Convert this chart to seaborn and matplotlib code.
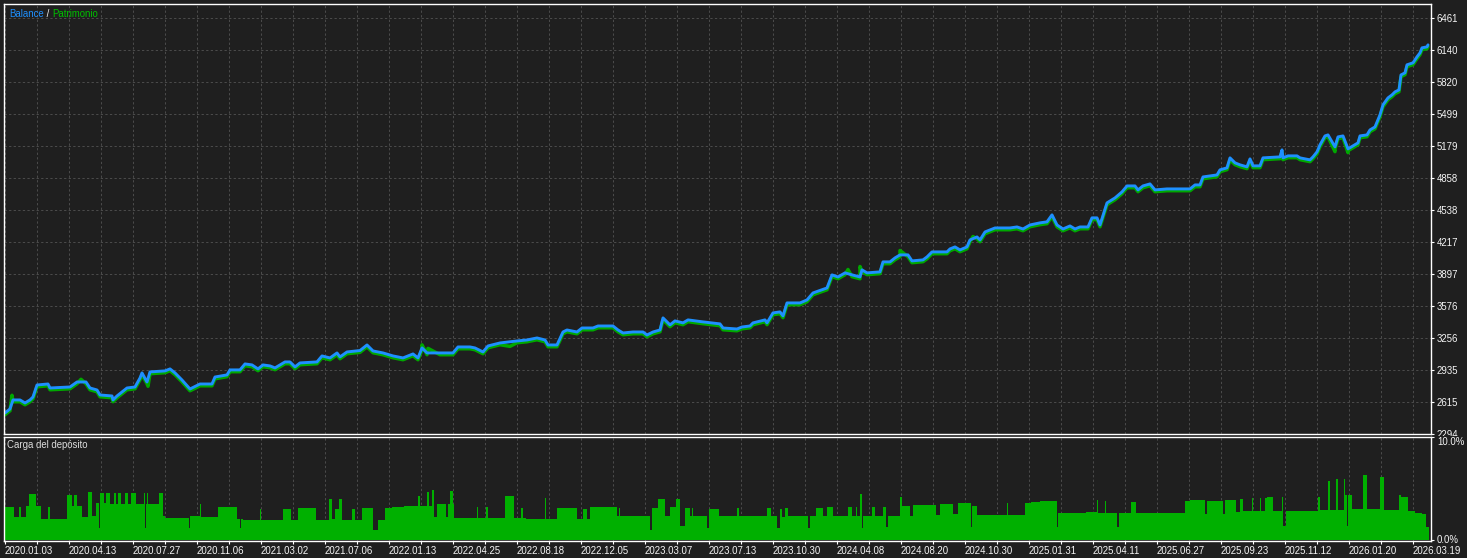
import numpy as np
import pandas as pd
import matplotlib
matplotlib.use("Agg")
import matplotlib.pyplot as plt
import seaborn as sns
from matplotlib import transforms
from matplotlib.transforms import Bbox
from matplotlib.offsetbox import TextArea, HPacker, AnchoredOffsetbox

# ---------------- data ----------------
# deal position (horizontal index) and balance value
deal_x = [5, 10, 13, 20, 25, 30, 33, 37, 48, 50, 70, 77, 86, 90, 97, 100, 112, 113, 117, 127,
          135, 140, 142, 147, 150, 165, 170, 175, 182, 190, 200, 212, 215, 227, 230, 240, 245, 252, 258, 263,
          270, 275, 285, 290, 295, 300, 317, 322, 330, 337, 340, 347, 360, 367, 373, 383, 393, 403, 413, 418,
          422, 427, 440, 453, 458, 470, 475, 483, 488, 500, 517, 527, 537, 545, 548, 557, 563, 567, 577, 582,
          593, 598, 613, 618, 623, 633, 643, 647, 653, 660, 663, 670, 675, 683, 688, 703, 720, 723, 737, 742,
          750, 753, 765, 767, 773, 780, 783, 787, 800, 807, 813, 827, 832, 838, 845, 852, 860, 862, 867, 880,
          883, 890, 895, 900, 908, 912, 923, 927, 932, 940, 947, 950, 955, 960, 967, 970, 977, 980, 985, 995,
          1010, 1017, 1023, 1030, 1040, 1047, 1052, 1057, 1063, 1070, 1075, 1080, 1088, 1092, 1097, 1100, 1107, 1115, 1122, 1127,
          1135, 1138, 1143, 1150, 1155, 1167, 1177, 1190, 1195, 1200, 1203, 1217, 1220, 1227, 1230, 1235, 1240, 1247, 1250, 1253,
          1260, 1263, 1280, 1282, 1283, 1288, 1297, 1300, 1310, 1313, 1317, 1320, 1325, 1328, 1335, 1338, 1343, 1348, 1353, 1358,
          1360, 1367, 1370, 1375, 1380, 1383, 1388, 1392, 1395, 1399, 1401, 1405, 1407, 1413, 1417, 1420, 1422, 1427, 1428]
balance = [2505, 2545, 2635, 2635, 2605, 2635, 2665, 2785, 2795, 2755, 2765, 2815, 2815, 2755, 2735, 2685, 2675, 2635, 2675, 2755,
           2765, 2855, 2906, 2815, 2916, 2926, 2946, 2906, 2835, 2745, 2795, 2795, 2865, 2886, 2936, 2936, 2996, 2986, 2946, 2986,
           2976, 2956, 3016, 3016, 2966, 3006, 3016, 3076, 3056, 3106, 3066, 3116, 3130, 3186, 3126, 3106, 3076, 3056, 3096, 3056,
           3156, 3106, 3106, 3106, 3166, 3166, 3156, 3116, 3176, 3206, 3226, 3236, 3256, 3236, 3186, 3186, 3316, 3336, 3316, 3356,
           3356, 3376, 3376, 3336, 3306, 3316, 3316, 3286, 3316, 3336, 3457, 3387, 3427, 3407, 3437, 3417, 3397, 3356, 3346, 3366,
           3376, 3407, 3437, 3407, 3507, 3517, 3477, 3607, 3607, 3637, 3707, 3757, 3888, 3867, 3908, 3888, 3867, 3938, 3908, 3918,
           4018, 4018, 4058, 4088, 4088, 4028, 4038, 4068, 4118, 4118, 4118, 4148, 4168, 4138, 4168, 4238, 4268, 4238, 4318, 4358,
           4358, 4368, 4348, 4388, 4409, 4419, 4489, 4388, 4348, 4378, 4348, 4368, 4368, 4459, 4459, 4388, 4609, 4659, 4719, 4779,
           4779, 4739, 4779, 4799, 4739, 4749, 4749, 4749, 4789, 4789, 4869, 4889, 4940, 4960, 5060, 5010, 4990, 4970, 5050, 4980,
           4980, 5060, 5070, 5140, 5060, 5080, 5080, 5060, 5040, 5070, 5120, 5190, 5280, 5290, 5170, 5270, 5280, 5150, 5180, 5210,
           5280, 5290, 5340, 5370, 5491, 5591, 5661, 5691, 5721, 5741, 5891, 5912, 5992, 6012, 6072, 6112, 6162, 6172, 6192]

# equity excursions away from balance (deal position, equity value)
equity_spike_x = [12, 81, 148, 422, 428, 510, 848, 860, 900, 973, 1335, 1348]
equity_spike_v = [2700, 2860, 2790, 3205, 3170, 3190, 3960, 3990, 4150, 4290, 5140, 5130]

# deposit load (segment start position, load %), last start is the end of the series
load_x = [4, 14, 19, 21, 26, 29, 36, 41, 48, 50, 67, 72, 74, 77, 82, 88, 92, 96, 99, 100,
          104, 106, 110, 114, 116, 118, 121, 125, 128, 131, 136, 144, 145, 146, 147, 148, 159, 163, 165, 189,
          190, 200, 201, 218, 237, 240, 241, 243, 260, 261, 283, 291, 298, 316, 329, 332, 335, 339, 342, 352,
          355, 362, 373, 378, 385, 392, 404, 418, 420, 427, 429, 432, 434, 437, 446, 448, 450, 453, 454, 477,
          478, 486, 488, 505, 514, 521, 523, 526, 545, 546, 557, 577, 583, 587, 590, 617, 619, 620, 650, 652,
          658, 665, 670, 676, 680, 685, 690, 692, 693, 707, 709, 719, 737, 739, 767, 771, 777, 780, 782, 785,
          788, 808, 810, 816, 823, 827, 833, 848, 852, 856, 857, 860, 862, 863, 872, 875, 883, 886, 888, 900,
          902, 910, 913, 936, 940, 953, 958, 971, 972, 977, 1007, 1008, 1025, 1031, 1040, 1057, 1058, 1086, 1097, 1098,
          1105, 1106, 1117, 1119, 1131, 1136, 1185, 1190, 1205, 1207, 1223, 1225, 1236, 1240, 1243, 1252, 1253, 1260, 1261, 1265,
          1267, 1273, 1282, 1283, 1286, 1318, 1320, 1328, 1330, 1336, 1338, 1344, 1345, 1347, 1348, 1352, 1363, 1367, 1380, 1384,
          1399, 1401, 1408, 1415, 1422, 1426, 1429]
load_pct = [3.2, 2.2, 3.2, 2.2, 3.3, 4.5, 3.3, 2.0, 3.2, 2.0, 4.4, 3.3, 4.4, 3.3, 2.2, 4.7, 2.3, 3.6, 1.2, 4.6,
            3.6, 4.6, 3.5, 4.6, 3.5, 4.6, 3.5, 4.6, 3.5, 4.6, 3.5, 4.6, 1.2, 3.5, 4.6, 3.5, 4.6, 2.3, 2.1, 1.2,
            2.3, 3.5, 2.2, 3.2, 2.0, 1.2, 2.0, 1.9, 3.0, 1.9, 3.0, 1.9, 3.1, 1.9, 4.0, 2.0, 3.0, 4.0, 1.9, 3.0,
            1.9, 3.1, 1.0, 1.9, 3.1, 3.2, 3.3, 4.3, 3.3, 4.7, 3.3, 4.9, 2.2, 3.5, 2.2, 3.5, 4.8, 3.5, 2.1, 3.2,
            2.1, 3.2, 2.1, 4.3, 2.1, 3.1, 2.1, 2.0, 4.1, 2.0, 3.1, 2.0, 3.0, 2.0, 3.2, 2.3, 3.1, 2.3, 1.0, 3.1,
            4.0, 2.3, 3.2, 4.0, 1.4, 3.1, 2.3, 3.1, 2.3, 1.2, 3.0, 2.3, 3.1, 2.3, 3.1, 2.3, 1.2, 3.0, 2.2, 3.1,
            2.3, 1.2, 2.3, 3.1, 2.3, 3.2, 2.3, 3.2, 2.3, 3.2, 2.3, 4.5, 1.2, 2.3, 3.2, 2.3, 3.2, 1.3, 2.3, 4.2,
            3.3, 2.3, 3.4, 2.4, 3.5, 2.5, 3.6, 1.3, 3.3, 2.4, 3.6, 2.4, 3.6, 3.7, 3.8, 1.3, 2.6, 2.7, 3.9, 2.6,
            3.8, 2.6, 1.3, 2.6, 3.7, 2.6, 3.8, 3.9, 2.5, 3.8, 2.5, 3.9, 2.7, 4.0, 2.8, 4.1, 2.8, 4.1, 2.8, 4.1,
            4.2, 2.8, 4.2, 1.4, 2.8, 4.2, 2.9, 5.7, 2.9, 5.9, 2.9, 5.9, 4.4, 1.4, 4.4, 3.0, 6.3, 3.0, 6.1, 2.9,
            4.4, 4.2, 2.8, 2.6, 2.5, 1.3]

date_labels = ["2020.01.03", "2020.04.13", "2020.07.27", "2020.11.06", "2021.03.02", "2021.07.06",
               "2022.01.13", "2022.04.25", "2022.08.18", "2022.12.05", "2023.03.07", "2023.07.13",
               "2023.10.30", "2024.04.08", "2024.08.20", "2024.10.30", "2025.01.31", "2025.04.11",
               "2025.06.27", "2025.09.23", "2025.11.12", "2026.01.20", "2026.03.19"]
value_ticks = [2294, 2615, 2935, 3256, 3576, 3897, 4217, 4538, 4858, 5179, 5499, 5820, 6140, 6461]
load_ticks = [0, 10]
load_tick_labels = ["0.0%", "10.0%"]

# ---------------- style ----------------
BG = "#1F1F1F"
BLUE = "#1E90FF"
GREEN = "#00A800"
BAR_GREEN = "#00B000"
GRID = "#4A4A4A"
TXT = "#F5F5F5"

sns.set_theme(style="dark", rc={"axes.facecolor": BG, "figure.facecolor": BG})
plt.rcParams["font.family"] = ["Liberation Sans", "DejaVu Sans"]
FS = 6.9

W, H = 1467, 558
fig = plt.figure(figsize=(W / 100, H / 100), dpi=100)
ax1 = fig.add_axes([4 / W, (H - 434) / H, 1427 / W, 430 / H])
ax2 = fig.add_axes([4 / W, (H - 541) / H, 1427 / W, 104 / H], sharex=ax1)
for ax in (ax1, ax2):
    ax.set_facecolor(BG)

# equity series: balance points plus excursions
eq = pd.concat([
    pd.DataFrame({"deal": deal_x, "value": balance}),
    pd.DataFrame({"deal": equity_spike_x, "value": equity_spike_v}),
]).sort_values("deal").reset_index(drop=True)
bal = pd.DataFrame({"deal": deal_x, "value": balance})

sns.lineplot(data=eq, x="deal", y="value", ax=ax1, color=GREEN, lw=2.5,
             estimator=None, sort=True)
ax1.lines[-1].set_transform(ax1.transData + transforms.ScaledTranslation(0, -1.8 / 100, fig.dpi_scale_trans))
sns.lineplot(data=bal, x="deal", y="value", ax=ax1, color=BLUE, lw=2.1,
             estimator=None, sort=True)

# load bars
ax2.bar(load_x[:-1], load_pct, width=np.diff(load_x), align="edge",
        color=BAR_GREEN, linewidth=0)

# ---------------- axes ----------------
ax1.set_ylim(value_ticks[0], value_ticks[0] + (value_ticks[-1] - value_ticks[0]) * 430 / 416)
ax1.set_xlim(4, 1431)
ax2.set_ylim(-0.1, 10.0)

major = 5 + 64 * np.arange(len(date_labels))
minor = 5 + 32 * np.arange(2 * len(date_labels))
ax2.set_xticks(major)
ax2.set_xticklabels(date_labels, ha="left")
ax2.set_xticks(minor[minor < 1431], minor=True)

ax1.set_yticks(value_ticks)
ax1.set_yticklabels([str(v) for v in value_ticks])
ax2.set_yticks(load_ticks)
ax2.set_yticklabels(load_tick_labels)

for ax in (ax1, ax2):
    ax.set_xlabel("")
    ax.set_ylabel("")
    for s in ax.spines.values():
        s.set_visible(True)
        s.set_color("white")
        s.set_linewidth(1.0)
    ax.yaxis.tick_right()
    ax.tick_params(axis="y", which="both", right=True, left=False, labelright=True, labelleft=False,
                   direction="out", length=2.2, width=0.8, pad=2, color="white", labelcolor=TXT,
                   labelsize=FS)

ax1.tick_params(axis="x", which="both", bottom=False, labelbottom=False)
ax2.tick_params(axis="x", which="both", bottom=True, direction="out", length=2.2, width=0.8,
                pad=1.2, color="white", labelcolor=TXT, labelsize=FS)

gkw = dict(color=GRID, linestyle=(0, (2.2, 2.2)), linewidth=0.75)
ax1.grid(True, axis="both", which="both", **gkw)
ax2.grid(True, axis="x", which="both", **gkw)
ax2.grid(False, axis="y")
ax1.set_axisbelow(True)
ax2.set_axisbelow(True)

ylabs = ax2.get_yticklabels()
ylabs[1].set_va("top")
ylabs[0].set_va("center")

# legend-like title
box = HPacker(children=[
    TextArea("Balance", textprops=dict(color=BLUE, size=FS)),
    TextArea(" / ", textprops=dict(color=TXT, size=FS)),
    TextArea("Patrimonio", textprops=dict(color="#00C000", size=FS)),
], align="baseline", pad=0, sep=0)
anch = AnchoredOffsetbox(loc="upper left", child=box, pad=0, borderpad=0.35, frameon=False,
                         bbox_to_anchor=(0, 1), bbox_transform=ax1.transAxes)
ax1.add_artist(anch)

ax2.annotate("Carga del depósito", xy=(0, 1), xycoords="axes fraction", xytext=(3, -3),
             textcoords="offset pixels", ha="left", va="top", color="#DDDDDD", size=FS)

# the lowest value label of the top panel is cut by the lower panel, as in the terminal
fig.canvas.draw()
clip = Bbox.from_extents(1431, H - 436, W, H)
for lab in ax1.get_yticklabels():
    lab.set_clip_box(clip)
    lab.set_clip_on(True)

fig.savefig("out.png", dpi=100, facecolor=BG)
